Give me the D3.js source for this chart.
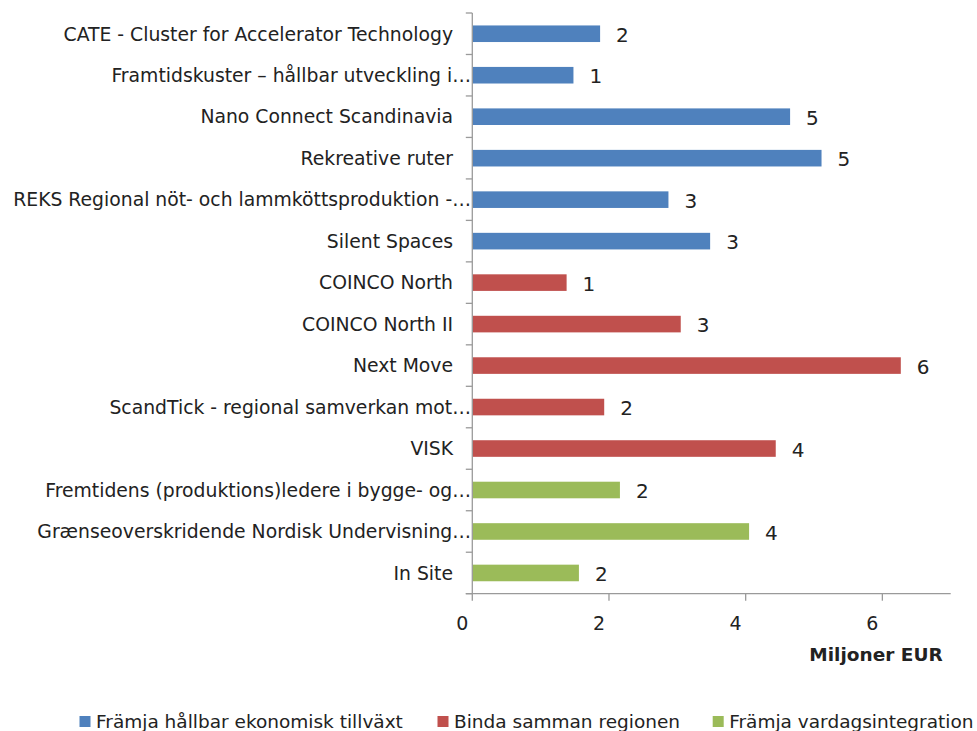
<!DOCTYPE html>
<html>
<head>
<meta charset="utf-8">
<script src="https://cdn.jsdelivr.net/npm/d3@7"></script>
<style>
  html, body { margin: 0; padding: 0; background: #fff; }
  svg text { font-family: "DejaVu Sans", Verdana, sans-serif; fill: #222; }
</style>
</head>
<body>
<svg id="chart" width="977" height="731"></svg>
<script>
const categories = [
  "CATE - Cluster for Accelerator Technology",
  "Framtidskuster – hållbar utveckling i…",
  "Nano Connect Scandinavia",
  "Rekreative ruter",
  "REKS Regional nöt- och lammköttsproduktion -…",
  "Silent Spaces",
  "COINCO North",
  "COINCO North II",
  "Next Move",
  "ScandTick - regional samverkan mot…",
  "VISK",
  "Fremtidens (produktions)ledere i bygge- og…",
  "Grænseoverskridende Nordisk Undervisning…",
  "In Site"
];
const values = [1.87, 1.48, 4.65, 5.11, 2.87, 3.48, 1.38, 3.05, 6.27, 1.93, 4.44, 2.16, 4.05, 1.56];
const groups = [0, 0, 0, 0, 0, 0, 1, 1, 1, 1, 1, 2, 2, 2];
const seriesNames = ["Främja hållbar ekonomisk tillväxt", "Binda samman regionen", "Främja vardagsintegration"];
const seriesColors = ["#4F81BD", "#C0504D", "#9BBB59"];
const xTicks = [0, 2, 4, 6];
const xTitle = "Miljoner EUR";

const svg = d3.select("#chart");
const axisColor = "#9a9a9a";

const x = d3.scaleLinear().domain([0, 7]).range([472.3, 950.7]);
const y = d3.scaleBand().domain(categories).range([13, 593.7]).paddingInner(0.6).paddingOuter(0.3);
const step = y.step();

// bars
svg.append("g").selectAll("rect").data(categories).join("rect")
  .attr("x", x(0))
  .attr("y", d => y(d))
  .attr("width", (d, i) => x(values[i]) - x(0))
  .attr("height", y.bandwidth())
  .attr("fill", (d, i) => seriesColors[groups[i]]);

// value labels
svg.append("g").selectAll("text").data(categories).join("text")
  .attr("x", (d, i) => x(values[i]) + 16)
  .attr("y", d => y(d) + y.bandwidth() / 2 + 1)
  .attr("dy", "0.36em")
  .style("font-size", "20px")
  .text((d, i) => d3.format(".0f")(values[i]));

// y axis line + ticks at band boundaries
const yAxisG = svg.append("g");
yAxisG.append("line")
  .attr("x1", x(0)).attr("x2", x(0))
  .attr("y1", 13).attr("y2", 593.7)
  .attr("stroke", axisColor).attr("stroke-width", 1.3);
const bounds = d3.range(categories.length + 1).map(i => 13 + i * step);
yAxisG.selectAll("line.tk").data(bounds).join("line")
  .attr("class", "tk")
  .attr("x1", x(0) - 6.5).attr("x2", x(0))
  .attr("y1", d => d).attr("y2", d => d)
  .attr("stroke", axisColor).attr("stroke-width", 1.3);

// category labels (truncated ones hang their ellipsis further right, as in the source)
svg.append("g").selectAll("text").data(categories).join("text")
  .attr("x", d => d.endsWith("…") ? 471 : 453)
  .attr("y", d => y(d) + y.bandwidth() / 2)
  .attr("dy", "0.36em")
  .attr("text-anchor", "end")
  .style("font-size", "18.8px")
  .text(d => d);

// x axis
const xAxisG = svg.append("g").attr("transform", "translate(0,593.7)");
xAxisG.append("line")
  .attr("x1", x(0) - 6.5).attr("x2", x(7))
  .attr("y1", 0).attr("y2", 0)
  .attr("stroke", axisColor).attr("stroke-width", 1.3);
xAxisG.selectAll("line.tk").data(xTicks).join("line")
  .attr("class", "tk")
  .attr("x1", d => x(d)).attr("x2", d => x(d))
  .attr("y1", 0).attr("y2", 7)
  .attr("stroke", axisColor).attr("stroke-width", 1.3);
xAxisG.selectAll("text").data(xTicks).join("text")
  .attr("x", d => x(d) - 10)
  .attr("y", 36.5)
  .attr("text-anchor", "middle")
  .style("font-size", "19px")
  .text(d => d);

svg.append("text")
  .attr("x", 942.7).attr("y", 661)
  .attr("text-anchor", "end")
  .style("font-size", "18.5px")
  .style("font-weight", "bold")
  .text(xTitle);

// legend
const legendX = [79.5, 437.5, 712.7];
const lg = svg.append("g").selectAll("g").data(seriesNames).join("g")
  .attr("transform", (d, i) => `translate(${legendX[i]},716)`);
lg.append("rect").attr("width", 11).attr("height", 11)
  .attr("fill", (d, i) => seriesColors[i]);
lg.append("text").attr("x", 16.5).attr("y", 12)
  .style("font-size", "18.5px")
  .text(d => d);
</script>
</body>
</html>
